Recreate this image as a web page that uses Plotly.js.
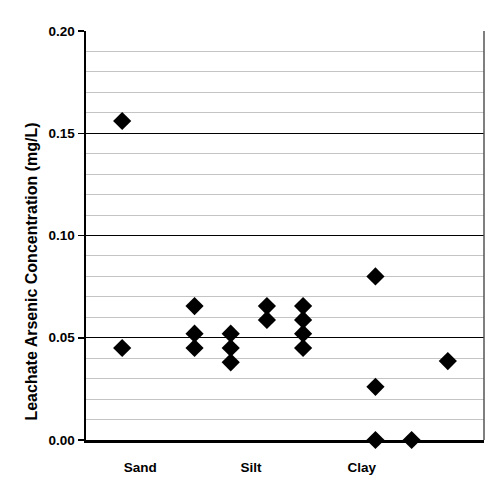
<!DOCTYPE html>
<html><head><meta charset="utf-8">
<script src="https://cdn.plot.ly/plotly-3.0.1.min.js"></script>
<style>body{margin:0;background:#fff}#c{width:500px;height:500px}</style>
</head><body><div id="c"></div>
<script>
// column positions and measured concentrations
const colX = [1, 1, 3, 3, 3, 4, 4, 4, 5, 5, 6, 6, 6, 6, 8, 8, 8, 9, 10];
const arsenic = [0.156, 0.045, 0.0655, 0.052, 0.045, 0.052, 0.045, 0.038, 0.0655, 0.0587, 0.0655, 0.0587, 0.052, 0.045, 0.080, 0.026, 0.0, 0.0, 0.0386];
const categories = ['Sand', 'Silt', 'Clay'];
const categoryPos = [1.5, 4.56, 7.62];
const yTicks = [0, 0.05, 0.10, 0.15, 0.20];
const yTickText = ['0.00', '0.05', '0.10', '0.15', '0.20'];
const yTitle = 'Leachate Arsenic Concentration (mg/L)';

const fam = 'Liberation Sans, Arial, sans-serif';
Plotly.newPlot('c', [{
  x: colX, y: arsenic, type: 'scatter', mode: 'markers',
  marker: {symbol: 'diamond', size: 14, color: '#000'},
  cliponaxis: false, hoverinfo: 'none'
}], {
  width: 500, height: 500,
  margin: {l: 86, r: 16, t: 31, b: 60},
  paper_bgcolor: '#fff', plot_bgcolor: '#fff',
  showlegend: false,
  font: {family: fam, size: 12, color: '#000'},
  xaxis: {
    range: [0, 11], tickmode: 'array', tickvals: categoryPos, ticktext: categories,
    showgrid: false, zeroline: false, showline: true, linecolor: '#000', linewidth: 2.5,
    ticks: '', ticklabelstandoff: 13,
    tickfont: {family: fam, size: 13.5, color: '#000', weight: 'bold'}
  },
  yaxis: {
    range: [0, 0.20], tickmode: 'array', tickvals: yTicks, ticktext: yTickText,
    showgrid: true, gridcolor: '#000', gridwidth: 1.3, zeroline: false,
    showline: true, linecolor: '#000', linewidth: 2.5,
    ticks: 'outside', ticklen: 6, tickwidth: 1.5, tickcolor: '#000',
    tickfont: {family: fam, size: 13.5, color: '#000', weight: 'bold'},
    minor: {dtick: 0.01, tick0: 0, showgrid: true, gridcolor: '#c4c4c4', gridwidth: 1, ticks: ''}
  },
  annotations: [{
    text: yTitle, textangle: -90, showarrow: false,
    xref: 'paper', x: -0.138, xanchor: 'center',
    yref: 'paper', y: 0.412, yanchor: 'middle',
    font: {family: fam, size: 16, color: '#000', weight: 'bold'}
  }],
  shapes: [
    {type: 'line', xref: 'paper', yref: 'paper', x0: 1, x1: 1, y0: 0, y1: 1, line: {color: '#555', width: 1.5}}
  ]
}, {staticPlot: true});
</script>
</body></html>
